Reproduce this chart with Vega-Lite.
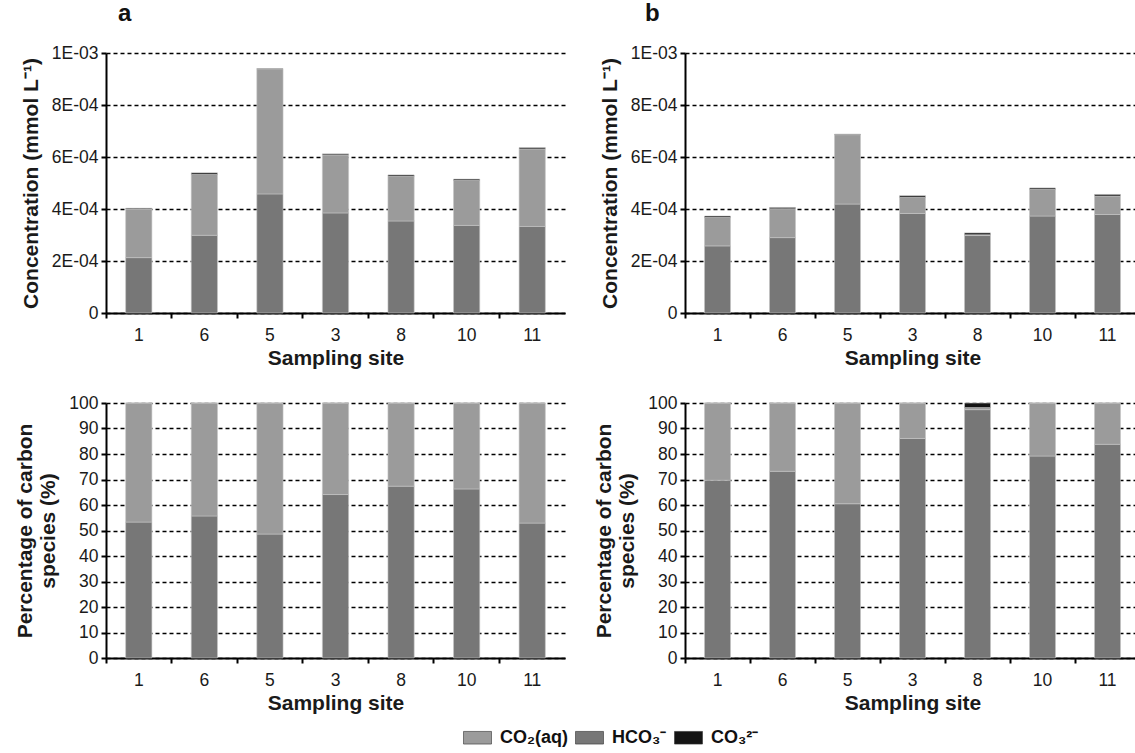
{
  "$schema": "https://vega.github.io/schema/vega-lite/v6.json",
  "background": "white",
  "padding": {"left": 14, "top": 2, "right": 0, "bottom": 0},
  "datasets": {
    "conc_a": [
      {"site": 1, "species": "HCO₃⁻", "rank": 1, "value": 0.000213},
      {"site": 1, "species": "CO₂(aq)", "rank": 2, "value": 0.000187},
      {"site": 1, "species": "CO₃²⁻", "rank": 3, "value": 0.000003},
      {"site": 6, "species": "HCO₃⁻", "rank": 1, "value": 0.000299},
      {"site": 6, "species": "CO₂(aq)", "rank": 2, "value": 0.000234},
      {"site": 6, "species": "CO₃²⁻", "rank": 3, "value": 0.000006},
      {"site": 5, "species": "HCO₃⁻", "rank": 1, "value": 0.000458},
      {"site": 5, "species": "CO₂(aq)", "rank": 2, "value": 0.000480},
      {"site": 5, "species": "CO₃²⁻", "rank": 3, "value": 0.000002},
      {"site": 3, "species": "HCO₃⁻", "rank": 1, "value": 0.000385},
      {"site": 3, "species": "CO₂(aq)", "rank": 2, "value": 0.000223},
      {"site": 3, "species": "CO₃²⁻", "rank": 3, "value": 0.000004},
      {"site": 8, "species": "HCO₃⁻", "rank": 1, "value": 0.000354},
      {"site": 8, "species": "CO₂(aq)", "rank": 2, "value": 0.000172},
      {"site": 8, "species": "CO₃²⁻", "rank": 3, "value": 0.000005},
      {"site": 10, "species": "HCO₃⁻", "rank": 1, "value": 0.000337},
      {"site": 10, "species": "CO₂(aq)", "rank": 2, "value": 0.000173},
      {"site": 10, "species": "CO₃²⁻", "rank": 3, "value": 0.000005},
      {"site": 11, "species": "HCO₃⁻", "rank": 1, "value": 0.000333},
      {"site": 11, "species": "CO₂(aq)", "rank": 2, "value": 0.000298},
      {"site": 11, "species": "CO₃²⁻", "rank": 3, "value": 0.000005}
    ],
    "conc_b": [
      {"site": 1, "species": "HCO₃⁻", "rank": 1, "value": 0.000258},
      {"site": 1, "species": "CO₂(aq)", "rank": 2, "value": 0.000110},
      {"site": 1, "species": "CO₃²⁻", "rank": 3, "value": 0.000005},
      {"site": 6, "species": "HCO₃⁻", "rank": 1, "value": 0.000290},
      {"site": 6, "species": "CO₂(aq)", "rank": 2, "value": 0.000111},
      {"site": 6, "species": "CO₃²⁻", "rank": 3, "value": 0.000005},
      {"site": 5, "species": "HCO₃⁻", "rank": 1, "value": 0.000419},
      {"site": 5, "species": "CO₂(aq)", "rank": 2, "value": 0.000267},
      {"site": 5, "species": "CO₃²⁻", "rank": 3, "value": 0.000002},
      {"site": 3, "species": "HCO₃⁻", "rank": 1, "value": 0.000383},
      {"site": 3, "species": "CO₂(aq)", "rank": 2, "value": 0.000062},
      {"site": 3, "species": "CO₃²⁻", "rank": 3, "value": 0.000006},
      {"site": 8, "species": "HCO₃⁻", "rank": 1, "value": 0.000298},
      {"site": 8, "species": "CO₂(aq)", "rank": 2, "value": 0.000003},
      {"site": 8, "species": "CO₃²⁻", "rank": 3, "value": 0.000007},
      {"site": 10, "species": "HCO₃⁻", "rank": 1, "value": 0.000373},
      {"site": 10, "species": "CO₂(aq)", "rank": 2, "value": 0.000103},
      {"site": 10, "species": "CO₃²⁻", "rank": 3, "value": 0.000005},
      {"site": 11, "species": "HCO₃⁻", "rank": 1, "value": 0.000379},
      {"site": 11, "species": "CO₂(aq)", "rank": 2, "value": 0.000071},
      {"site": 11, "species": "CO₃²⁻", "rank": 3, "value": 0.000006}
    ],
    "pct_a": [
      {"site": 1, "species": "HCO₃⁻", "rank": 1, "value": 53.3},
      {"site": 1, "species": "CO₂(aq)", "rank": 2, "value": 46.7},
      {"site": 1, "species": "CO₃²⁻", "rank": 3, "value": 0},
      {"site": 6, "species": "HCO₃⁻", "rank": 1, "value": 55.7},
      {"site": 6, "species": "CO₂(aq)", "rank": 2, "value": 44.3},
      {"site": 6, "species": "CO₃²⁻", "rank": 3, "value": 0},
      {"site": 5, "species": "HCO₃⁻", "rank": 1, "value": 48.6},
      {"site": 5, "species": "CO₂(aq)", "rank": 2, "value": 51.4},
      {"site": 5, "species": "CO₃²⁻", "rank": 3, "value": 0},
      {"site": 3, "species": "HCO₃⁻", "rank": 1, "value": 64.1},
      {"site": 3, "species": "CO₂(aq)", "rank": 2, "value": 35.9},
      {"site": 3, "species": "CO₃²⁻", "rank": 3, "value": 0},
      {"site": 8, "species": "HCO₃⁻", "rank": 1, "value": 67.4},
      {"site": 8, "species": "CO₂(aq)", "rank": 2, "value": 32.6},
      {"site": 8, "species": "CO₃²⁻", "rank": 3, "value": 0},
      {"site": 10, "species": "HCO₃⁻", "rank": 1, "value": 66.3},
      {"site": 10, "species": "CO₂(aq)", "rank": 2, "value": 33.7},
      {"site": 10, "species": "CO₃²⁻", "rank": 3, "value": 0},
      {"site": 11, "species": "HCO₃⁻", "rank": 1, "value": 52.9},
      {"site": 11, "species": "CO₂(aq)", "rank": 2, "value": 47.1},
      {"site": 11, "species": "CO₃²⁻", "rank": 3, "value": 0}
    ],
    "pct_b": [
      {"site": 1, "species": "HCO₃⁻", "rank": 1, "value": 69.7},
      {"site": 1, "species": "CO₂(aq)", "rank": 2, "value": 30.3},
      {"site": 1, "species": "CO₃²⁻", "rank": 3, "value": 0},
      {"site": 6, "species": "HCO₃⁻", "rank": 1, "value": 73.2},
      {"site": 6, "species": "CO₂(aq)", "rank": 2, "value": 26.8},
      {"site": 6, "species": "CO₃²⁻", "rank": 3, "value": 0},
      {"site": 5, "species": "HCO₃⁻", "rank": 1, "value": 60.5},
      {"site": 5, "species": "CO₂(aq)", "rank": 2, "value": 39.5},
      {"site": 5, "species": "CO₃²⁻", "rank": 3, "value": 0},
      {"site": 3, "species": "HCO₃⁻", "rank": 1, "value": 86.1},
      {"site": 3, "species": "CO₂(aq)", "rank": 2, "value": 13.9},
      {"site": 3, "species": "CO₃²⁻", "rank": 3, "value": 0},
      {"site": 8, "species": "HCO₃⁻", "rank": 1, "value": 97.4},
      {"site": 8, "species": "CO₂(aq)", "rank": 2, "value": 0.8},
      {"site": 8, "species": "CO₃²⁻", "rank": 3, "value": 1.8},
      {"site": 10, "species": "HCO₃⁻", "rank": 1, "value": 79.2},
      {"site": 10, "species": "CO₂(aq)", "rank": 2, "value": 20.8},
      {"site": 10, "species": "CO₃²⁻", "rank": 3, "value": 0},
      {"site": 11, "species": "HCO₃⁻", "rank": 1, "value": 83.8},
      {"site": 11, "species": "CO₂(aq)", "rank": 2, "value": 16.2},
      {"site": 11, "species": "CO₃²⁻", "rank": 3, "value": 0}
    ]
  },
  "config": {
    "font": "Liberation Sans",
    "view": {"stroke": null},
    "axis": {
      "domainColor": "black", "domainWidth": 2,
      "tickColor": "black", "tickWidth": 2, "tickSize": 5,
      "labelFont": "Liberation Sans", "labelFontSize": 17.5, "labelColor": "#1a1a1a",
      "titleFont": "Liberation Sans", "titleFontSize": 21, "titleFontWeight": "bold", "titleColor": "#1a1a1a"
    },
    "axisY": {"grid": true, "gridColor": "black", "gridDash": [4, 3], "gridWidth": 1.5, "gridOpacity": 1, "labelPadding": 3, "titlePadding": 10},
    "axisX": {"grid": false, "labelAngle": 0, "labelPadding": 8, "titlePadding": 4, "bandPosition": 0},
    "bar": {"stroke": "#c4c4c4", "strokeWidth": 0.6},
    "legend": {
      "orient": "none", "legendX": 357, "legendY": 670, "direction": "horizontal",
      "title": null, "padding": 0,
      "symbolType": "M-1,-0.45H1V0.45H-1Z", "symbolSize": 784,
      "symbolStrokeColor": "#333", "symbolStrokeWidth": 1,
      "labelFont": "Liberation Sans", "labelFontSize": 18, "labelFontWeight": "bold", "labelColor": "#111",
      "labelOffset": 8, "columnPadding": 6
    }
  },
  "columns": 2,
  "spacing": {"row": 25, "column": 28},
  "concat": [
    {
      "width": 459, "height": 260,
      "title": {"text": "a", "anchor": "start", "frame": "group", "fontSize": 24, "fontWeight": "bold", "dx": 12, "offset": 18, "color": "#111"},
      "data": {"name": "conc_a"},
      "mark": {"type": "bar", "width": {"band": 0.4}},
      "encoding": {
        "x": {"field": "site", "type": "ordinal", "sort": [1, 6, 5, 3, 8, 10, 11], "scale": {"paddingInner": 0, "paddingOuter": 0}, "axis": {"title": "Sampling site"}},
        "y": {"field": "value", "type": "quantitative", "stack": "zero", "scale": {"domain": [0, 0.001]},
              "axis": {"title": "Concentration (mmol L⁻¹)", "values": [0, 0.0002, 0.0004, 0.0006, 0.0008, 0.001],
                       "labelExpr": "datum.value == 0 ? '0' : (round(datum.value * 10000) == 10 ? '1E-03' : round(datum.value * 10000) + 'E-04')"}},
        "color": {"field": "species", "type": "nominal", "scale": {"domain": ["CO₂(aq)", "HCO₃⁻", "CO₃²⁻"], "range": ["#9b9b9b", "#777777", "#141414"]}},
        "order": {"field": "rank", "type": "quantitative"}
      }
    },
    {
      "width": 455, "height": 260,
      "title": {"text": "b", "anchor": "start", "frame": "group", "fontSize": 24, "fontWeight": "bold", "dx": -40, "offset": 18, "color": "#111"},
      "data": {"name": "conc_b"},
      "mark": {"type": "bar", "width": {"band": 0.4}},
      "encoding": {
        "x": {"field": "site", "type": "ordinal", "sort": [1, 6, 5, 3, 8, 10, 11], "scale": {"paddingInner": 0, "paddingOuter": 0}, "axis": {"title": "Sampling site"}},
        "y": {"field": "value", "type": "quantitative", "stack": "zero", "scale": {"domain": [0, 0.001]},
              "axis": {"title": "Concentration (mmol L⁻¹)", "values": [0, 0.0002, 0.0004, 0.0006, 0.0008, 0.001],
                       "labelExpr": "datum.value == 0 ? '0' : (round(datum.value * 10000) == 10 ? '1E-03' : round(datum.value * 10000) + 'E-04')"}},
        "color": {"field": "species", "type": "nominal", "scale": {"domain": ["CO₂(aq)", "HCO₃⁻", "CO₃²⁻"], "range": ["#9b9b9b", "#777777", "#141414"]}},
        "order": {"field": "rank", "type": "quantitative"}
      }
    },
    {
      "width": 459, "height": 255,
      "data": {"name": "pct_a"},
      "mark": {"type": "bar", "width": {"band": 0.4}},
      "encoding": {
        "x": {"field": "site", "type": "ordinal", "sort": [1, 6, 5, 3, 8, 10, 11], "scale": {"paddingInner": 0, "paddingOuter": 0}, "axis": {"title": "Sampling site"}},
        "y": {"field": "value", "type": "quantitative", "stack": "zero", "scale": {"domain": [0, 100]},
              "axis": {"title": ["Percentage of carbon", "species (%)"], "values": [0, 10, 20, 30, 40, 50, 60, 70, 80, 90, 100]}},
        "color": {"field": "species", "type": "nominal", "scale": {"domain": ["CO₂(aq)", "HCO₃⁻", "CO₃²⁻"], "range": ["#9b9b9b", "#777777", "#141414"]}},
        "order": {"field": "rank", "type": "quantitative"}
      }
    },
    {
      "width": 455, "height": 255,
      "data": {"name": "pct_b"},
      "mark": {"type": "bar", "width": {"band": 0.4}},
      "encoding": {
        "x": {"field": "site", "type": "ordinal", "sort": [1, 6, 5, 3, 8, 10, 11], "scale": {"paddingInner": 0, "paddingOuter": 0}, "axis": {"title": "Sampling site"}},
        "y": {"field": "value", "type": "quantitative", "stack": "zero", "scale": {"domain": [0, 100]},
              "axis": {"title": ["Percentage of carbon", "species (%)"], "values": [0, 10, 20, 30, 40, 50, 60, 70, 80, 90, 100]}},
        "color": {"field": "species", "type": "nominal", "scale": {"domain": ["CO₂(aq)", "HCO₃⁻", "CO₃²⁻"], "range": ["#9b9b9b", "#777777", "#141414"]}},
        "order": {"field": "rank", "type": "quantitative"}
      }
    }
  ]
}
